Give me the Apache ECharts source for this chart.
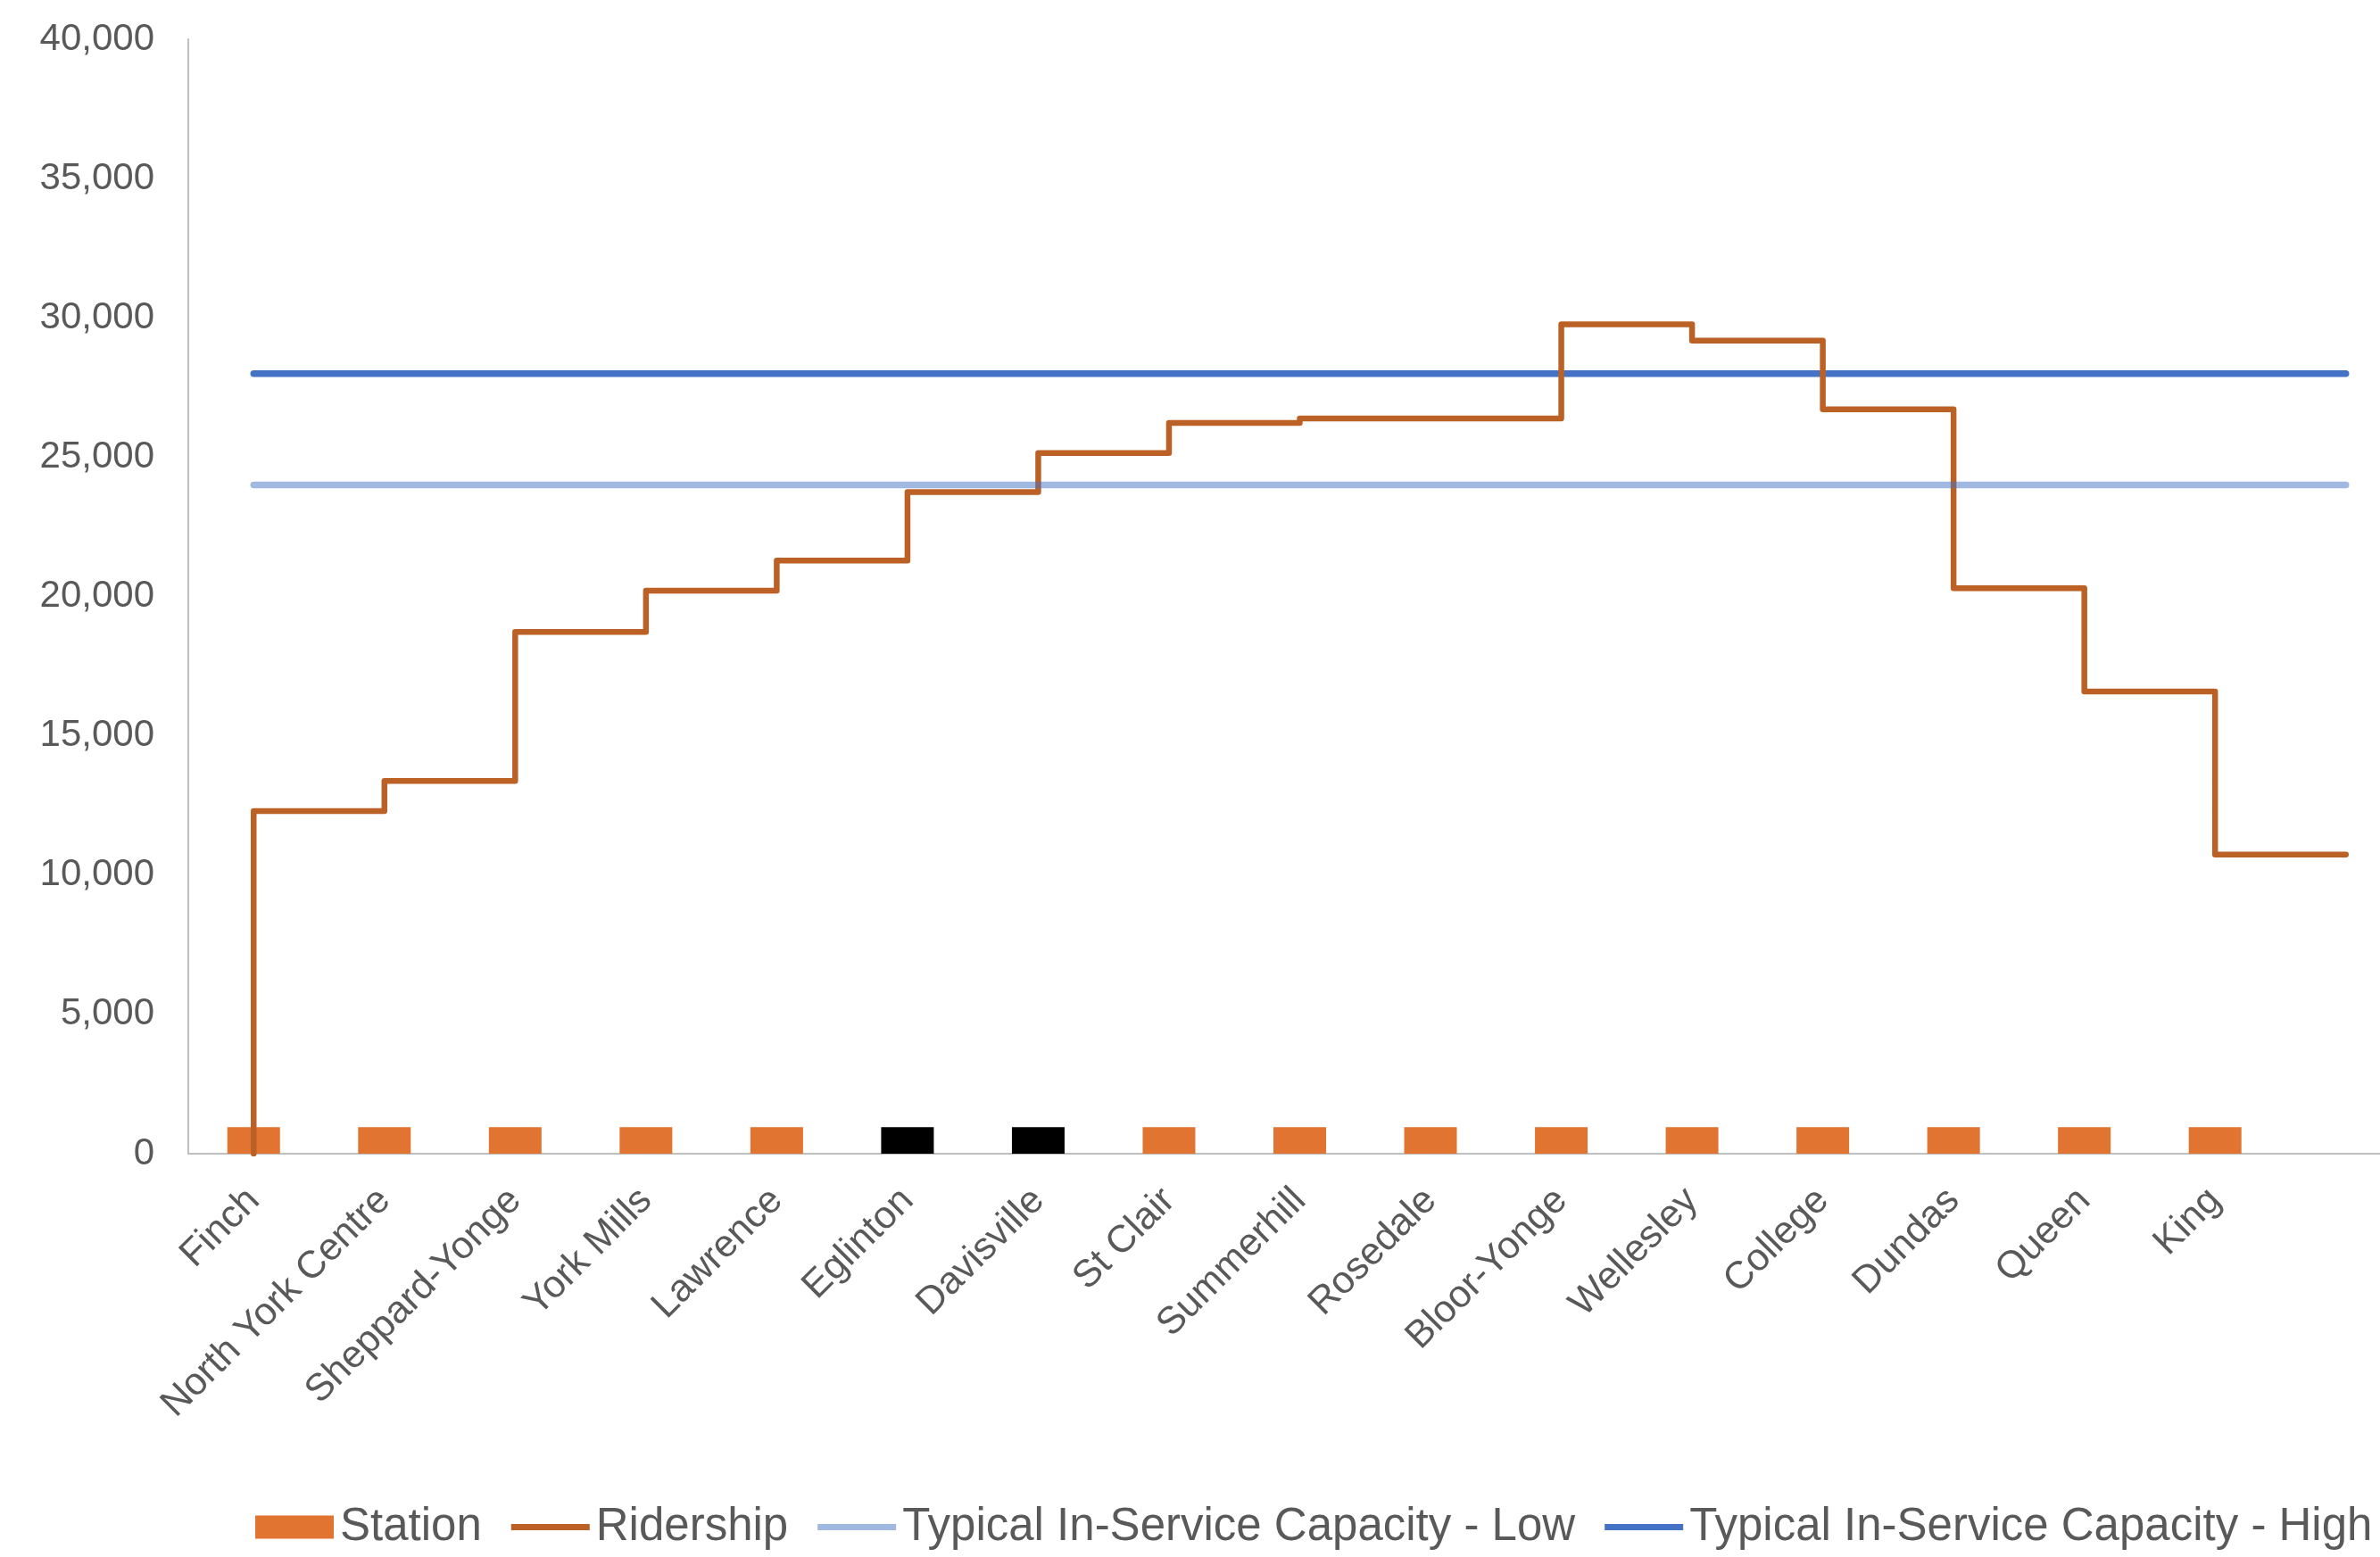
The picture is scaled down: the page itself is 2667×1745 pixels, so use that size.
<!DOCTYPE html>
<html>
<head>
<meta charset="utf-8">
<title>Yonge Line Ridership vs Capacity</title>
<script src="https://cdn.jsdelivr.net/npm/echarts@6/dist/echarts.min.js"></script>
<style>
  html, body { margin: 0; padding: 0; background: #ffffff; }
  #chart { width: 2667px; height: 1745px; }
</style>
</head>
<body>
<div id="chart"></div>
<script>
// Stations southbound from Finch to King; the blank last slot closes the final step.
const stations = ['Finch', 'North York Centre', 'Sheppard-Yonge', 'York Mills', 'Lawrence',
  'Eglinton', 'Davisville', 'St Clair', 'Summerhill', 'Rosedale', 'Bloor-Yonge',
  'Wellesley', 'College', 'Dundas', 'Queen', 'King', ''];

// Station markers along the axis (no marker for the closing slot).
const stationMarkers = [950, 950, 950, 950, 950, 950, 950, 950, 950, 950, 950, 950, 950, 950, 950, 950, null];

// Stations drawn with a dark marker.
const darkStations = ['Eglinton', 'Davisville'];

// Ridership on the segment arriving at each position (step drawn at the station).
const ridership = [0, 12300, 13380, 18730, 20210, 21290, 23750, 25150, 26230,
  26390, 26390, 29770, 29180, 26720, 20300, 16590, 10740];

// Typical in-service capacity bands.
const capacityLow = [24000, 24000, 24000, 24000, 24000, 24000, 24000, 24000, 24000,
  24000, 24000, 24000, 24000, 24000, 24000, 24000, 24000];
const capacityHigh = [28000, 28000, 28000, 28000, 28000, 28000, 28000, 28000, 28000,
  28000, 28000, 28000, 28000, 28000, 28000, 28000, 28000];

const yTicks = { min: 0, max: 40000, interval: 5000 };

const FONT = '"Liberation Sans", Arial, sans-serif';
const TEXT = '#595959';
const AXIS = '#BFBFBF';
const ORANGE = '#E07430';
const BROWN = '#BC6125';
const BLUE = '#4472C4';

// Legend swatch for line series: a thick bar centred in the icon box
// (the leading moves fix the box so the bar keeps its thickness).
const LINE_ICON = 'path://M0,0 M88,26 M0,9.5 L88,9.5 L88,16.5 L0,16.5 Z';

const chart = echarts.init(document.getElementById('chart'), null, { renderer: 'canvas' });

chart.setOption({
  backgroundColor: '#ffffff',
  animation: false,
  textStyle: { fontFamily: FONT },
  // The plot runs past the right edge of the canvas, so its width is fixed
  // and the grid is not squeezed back inside the container.
  grid: {
    left: 211, top: 44, width: 2491, bottom: 452,
    containLabel: false,
    outerBoundsMode: 'none'
  },
  legend: {
    data: [
      { name: 'Station', icon: 'rect' },
      { name: 'Ridership', icon: LINE_ICON },
      { name: 'Typical In-Service Capacity - Low', icon: LINE_ICON },
      { name: 'Typical In-Service Capacity - High', icon: LINE_ICON }
    ],
    left: 286,
    top: 1686,
    padding: 0,
    itemWidth: 88,
    itemHeight: 26,
    itemGap: 33,
    textStyle: { fontSize: 51, color: TEXT, fontFamily: FONT, padding: [0, 0, 0, 2] }
  },
  xAxis: {
    type: 'category',
    data: stations,
    boundaryGap: true,
    axisLine: { show: true, lineStyle: { color: AXIS, width: 2 } },
    axisTick: { show: false },
    splitLine: { show: false },
    axisLabel: {
      interval: 0,
      rotate: 45,
      margin: 46,
      fontSize: 43,
      color: TEXT,
      fontFamily: FONT
    }
  },
  yAxis: {
    type: 'value',
    min: yTicks.min,
    max: yTicks.max,
    interval: yTicks.interval,
    axisLine: { show: true, lineStyle: { color: AXIS, width: 2 } },
    axisTick: { show: false },
    splitLine: { show: false },
    axisLabel: {
      margin: 38,
      fontSize: 42,
      color: TEXT,
      fontFamily: FONT,
      formatter: v => v.toLocaleString('en-US')
    }
  },
  series: [
    {
      name: 'Station',
      type: 'bar',
      barWidth: 59,
      z: 1,
      data: stationMarkers.map((v, i) => ({
        value: v,
        itemStyle: { color: darkStations.includes(stations[i]) ? '#000000' : ORANGE }
      })),
      itemStyle: { color: ORANGE }
    },
    {
      name: 'Typical In-Service Capacity - High',
      type: 'line',
      z: 2,
      data: capacityHigh,
      symbol: 'none',
      lineStyle: { color: BLUE, width: 7.5, cap: 'round' },
      itemStyle: { color: BLUE }
    },
    {
      name: 'Ridership',
      type: 'line',
      z: 3,
      step: 'start',
      data: ridership,
      symbol: 'none',
      lineStyle: { color: BROWN, width: 6.5, cap: 'round', join: 'round' },
      itemStyle: { color: BROWN }
    },
    {
      name: 'Typical In-Service Capacity - Low',
      type: 'line',
      z: 4,
      data: capacityLow,
      symbol: 'none',
      lineStyle: { color: BLUE, opacity: 0.5, width: 7.5, cap: 'round' },
      itemStyle: { color: '#A1B8E1' }
    }
  ]
});
</script>
</body>
</html>
